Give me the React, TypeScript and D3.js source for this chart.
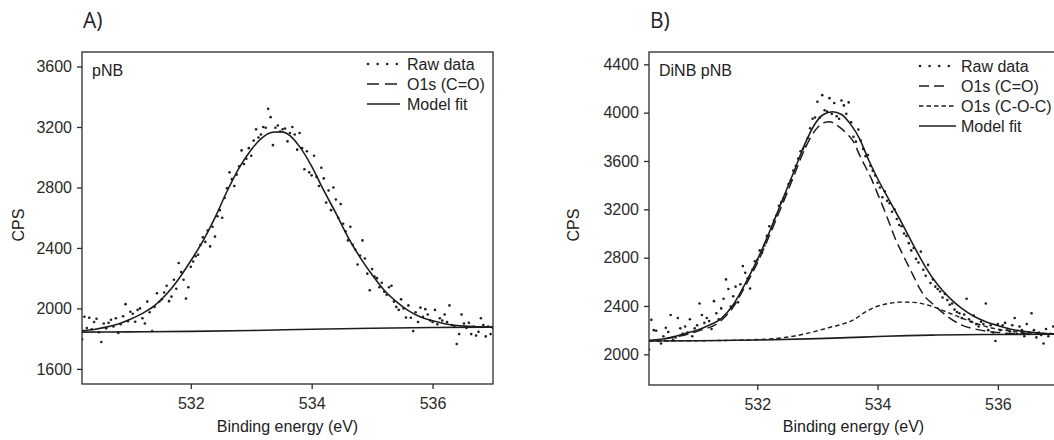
import React, { useEffect, useRef } from 'react';
import * as d3 from 'd3';

// energy grid of the raw spectra (eV)
const E_START = 530.2;
const E_STEP = 0.04;
const X_DOMAIN = [530.2, 537.0];
const X_TICKS = [532, 534, 536];

// Panel A (pNB) raw counts, one value per grid step
const rawA = [
  1795, 1945, 1870, 1938, 1862, 1910, 1932, 1842, 1778, 1900,
  1868, 1905, 1925, 1880, 1935, 1838, 1895, 1948, 2028, 1915,
  1978, 1965, 1912, 1990, 2000, 1935, 1900, 2045, 1975, 1850,
  2010, 2100, 2045, 2060, 2105, 2150, 2048, 2078, 2190, 2130,
  2300, 2240, 2190, 2065, 2140, 2275, 2310, 2345, 2355, 2420,
  2470, 2440, 2515, 2410, 2540, 2475, 2610, 2650, 2600, 2730,
  2795, 2900, 2855, 2810, 2885, 2940, 3045, 2955, 2990, 3060,
  3010, 3110, 3185, 3130, 3150, 3200, 3195, 3320, 3265, 3080,
  3195, 3210, 3170, 3185, 3190, 3105, 3160, 3200, 3150, 3050,
  3160, 3060, 2920, 3040, 2900, 2880, 3010, 2870, 2810, 2930,
  2860, 2700, 2780, 2650, 2800, 2720, 2600, 2690, 2560, 2510,
  2450, 2540, 2420, 2390, 2290, 2350, 2450, 2330, 2230, 2120,
  2260, 2210, 2200, 2140, 2170, 2110, 2090, 2140, 2150, 2045,
  2010, 1990, 2060, 2000, 1940, 2020, 1938, 1850, 1975, 1910,
  2005, 1945, 1995, 1960, 1920, 1910, 1990, 1895, 1935, 1920,
  1960, 1910, 2020, 1890, 1880, 1765, 1830, 1960, 1900, 1870,
  1905, 1830, 1880, 1820, 1845, 1935, 1890, 1815, 1880, 1830,
  1870,
];

// Panel A model fit and background [eV, CPS]
const fitA = [
  [530.2, 1853], [530.4, 1861], [530.6, 1876], [530.8, 1897], [531.0, 1928],
  [531.2, 1967], [531.4, 2018], [531.6, 2095], [531.8, 2195], [532.0, 2315],
  [532.2, 2445], [532.4, 2600], [532.6, 2775], [532.8, 2930], [533.0, 3050],
  [533.2, 3135], [533.35, 3165], [533.5, 3168], [533.65, 3140], [533.8, 3070],
  [534.0, 2940], [534.2, 2780], [534.4, 2630], [534.6, 2472], [534.8, 2338],
  [535.0, 2222], [535.2, 2120], [535.4, 2045], [535.6, 1985], [535.8, 1943],
  [536.0, 1918], [536.2, 1899], [536.4, 1887], [536.6, 1882], [536.8, 1878],
  [537.0, 1876],
];
const baseA = [
  [530.2, 1843], [531.0, 1845], [532.0, 1848], [533.0, 1854], [534.0, 1862],
  [535.0, 1869], [536.0, 1874], [537.0, 1876],
];

// Panel B (DiNB pNB) raw counts
const rawB = [
  2040, 2285, 2200, 2195, 2110, 2090, 2150, 2220, 2185, 2325,
  2120, 2140, 2300, 2215, 2170, 2230, 2180, 2290, 2150, 2215,
  2240, 2420, 2325, 2260, 2300, 2275, 2210, 2440, 2340, 2290,
  2380, 2460, 2620, 2540, 2395, 2480, 2560, 2430, 2580, 2730,
  2675, 2630, 2545, 2700, 2770, 2780, 2860, 2840, 2900, 2980,
  3060, 3040, 3110, 3150, 3230, 3260, 3290, 3330, 3410, 3440,
  3520, 3560, 3620, 3680, 3700, 3720, 3790, 3870, 3950, 3960,
  4090, 3960, 4145, 4020, 4010, 4120, 3990, 4080, 3970, 3950,
  4100, 4060, 3990, 4085, 3920, 3800, 3760, 3860, 3770, 3700,
  3640, 3650, 3560, 3520, 3480, 3420, 3380, 3300, 3350, 3270,
  3250, 3180, 3200, 3120, 3070, 3060, 3000, 2980, 2920, 2860,
  2880, 2790, 2760, 2850, 2700, 2650, 2740, 2590, 2620, 2560,
  2540, 2520, 2470, 2500, 2450, 2410, 2420, 2370, 2350, 2340,
  2300, 2330, 2460, 2290, 2270, 2320, 2250, 2230, 2270, 2250,
  2420, 2200, 2240, 2180, 2110, 2250, 2200, 2240, 2260, 2210,
  2190, 2240, 2300, 2170, 2230, 2200, 2150, 2250, 2180, 2340,
  2200, 2140, 2180, 2160, 2090, 2210, 2150, 2170, 2230, 2160,
  2200,
];

const fitB = [
  [530.2, 2115], [530.4, 2125], [530.6, 2145], [530.8, 2172], [531.0, 2200],
  [531.2, 2240], [531.4, 2295], [531.6, 2410], [531.8, 2585], [532.0, 2781],
  [532.2, 3010], [532.4, 3255], [532.6, 3500], [532.8, 3750], [532.95, 3900],
  [533.1, 3985], [533.25, 4007], [533.4, 3985], [533.55, 3905], [533.7, 3785],
  [533.85, 3610], [534.0, 3455], [534.2, 3270], [534.4, 3090], [534.6, 2900],
  [534.8, 2720], [535.0, 2575], [535.2, 2465], [535.4, 2380], [535.6, 2315],
  [535.8, 2270], [536.0, 2238], [536.2, 2210], [536.4, 2192], [536.6, 2180],
  [536.8, 2172], [537.0, 2168],
];
const coB = [
  [530.2, 2112], [530.6, 2140], [531.0, 2190], [531.4, 2280], [531.6, 2392],
  [531.8, 2565], [532.0, 2755], [532.2, 2980], [532.4, 3220], [532.6, 3465],
  [532.8, 3710], [532.95, 3845], [533.1, 3915], [533.2, 3925], [533.3, 3905],
  [533.4, 3868], [533.5, 3820], [533.6, 3760], [533.7, 3650], [533.8, 3550],
  [533.9, 3450], [534.0, 3330], [534.1, 3210], [534.2, 3080], [534.3, 2950],
  [534.4, 2845], [534.5, 2745], [534.6, 2645], [534.7, 2545], [534.8, 2470],
  [534.9, 2425], [535.0, 2380], [535.2, 2300], [535.4, 2242], [535.6, 2212],
  [535.8, 2192], [536.0, 2180], [536.4, 2170], [537.0, 2166],
];
const cocB = [
  [530.2, 2110], [531.0, 2112], [531.5, 2115], [532.0, 2122], [532.4, 2135],
  [532.8, 2170], [533.0, 2195], [533.2, 2222], [533.4, 2248], [533.6, 2285],
  [533.8, 2352], [534.0, 2398], [534.2, 2422], [534.4, 2432], [534.6, 2430],
  [534.8, 2412], [535.0, 2380], [535.2, 2340], [535.4, 2300], [535.6, 2262],
  [535.8, 2230], [536.0, 2208], [536.3, 2187], [536.6, 2176], [537.0, 2168],
];
const baseB = [
  [530.2, 2110], [531.0, 2112], [532.0, 2118], [533.0, 2130], [533.5, 2138],
  [534.0, 2147], [534.5, 2155], [535.0, 2160], [536.0, 2164], [537.0, 2166],
];

const FONT = '"Liberation Sans", Arial, sans-serif';
const INK = '#1e1e1e';

function drawPanel(svg, p) {
  const x = d3.scaleLinear().domain(X_DOMAIN).range([p.left, p.right]);
  const y = d3.scaleLinear().domain(p.yDomain).range([p.bottom, p.top]);
  const g = svg.append('g');

  const clipId = 'clip-' + p.id;
  g.append('clipPath').attr('id', clipId)
    .append('rect')
    .attr('x', p.left).attr('y', p.top)
    .attr('width', p.right - p.left).attr('height', p.bottom - p.top);

  const plot = g.append('g').attr('clip-path', `url(#${clipId})`);
  const line = d3.line().x(d => x(d[0])).y(d => y(d[1])).curve(d3.curveMonotoneX);

  p.lines.forEach(l => {
    plot.append('path')
      .attr('d', line(l.data))
      .attr('fill', 'none')
      .attr('stroke', INK)
      .attr('stroke-width', l.width || 1.6)
      .attr('stroke-dasharray', l.dash || null);
  });

  plot.selectAll('.pt')
    .data(p.raw)
    .enter()
    .append('circle')
    .attr('cx', (d, i) => x(E_START + i * E_STEP))
    .attr('cy', d => y(d))
    .attr('r', 1.3)
    .attr('fill', INK);

  // frame
  g.append('rect')
    .attr('x', p.left).attr('y', p.top)
    .attr('width', p.right - p.left).attr('height', p.bottom - p.top)
    .attr('fill', 'none').attr('stroke', '#2a2a2a').attr('stroke-width', 1.3);

  const ax = g.append('g')
    .attr('transform', `translate(0,${p.bottom})`)
    .call(d3.axisBottom(x).tickValues(X_TICKS).tickSize(5).tickPadding(9).tickFormat(d3.format('d')));
  const ay = g.append('g')
    .attr('transform', `translate(${p.left},0)`)
    .call(d3.axisLeft(y).tickValues(p.yTicks).tickSize(5).tickPadding(5).tickFormat(d3.format('d')));
  [ax, ay].forEach(a => {
    a.select('.domain').remove();
    a.selectAll('line').attr('stroke', '#2a2a2a').attr('stroke-width', 1.3);
    a.selectAll('text').attr('font-size', 16).attr('font-family', FONT).attr('fill', '#2a2a2a');
  });

  const txt = (tx, ty, s, size = 16, anchor = 'start') =>
    g.append('text').attr('x', tx).attr('y', ty).attr('font-family', FONT)
      .attr('font-size', size).attr('fill', '#222').attr('text-anchor', anchor).text(s);

  txt((p.left + p.right) / 2, 432, 'Binding energy (eV)', 16, 'middle');
  g.append('text')
    .attr('transform', `translate(${p.cpsX},${225}) rotate(-90)`)
    .attr('text-anchor', 'middle').attr('font-family', FONT).attr('font-size', 16)
    .attr('fill', '#222').text('CPS');
  txt(p.left + 1, 28, p.panel, 21).attr('font-family', '"Open Sans", sans-serif');
  txt(p.left + 10, 76, p.name);

  // legend
  p.legend.forEach((item, i) => {
    const ly = p.legendY + i * 20;
    const x0 = p.legendX;
    if (item.kind === 'dots') {
      [0, 1, 2, 3].forEach(k => {
        g.append('circle').attr('cx', x0 + 1 + k * 9.6).attr('cy', ly).attr('r', 1.3).attr('fill', INK);
      });
    } else {
      g.append('line')
        .attr('x1', x0).attr('x2', x0 + item.len)
        .attr('y1', ly).attr('y2', ly)
        .attr('stroke', INK).attr('stroke-width', 1.6)
        .attr('stroke-dasharray', item.dash || null);
    }
    txt(p.legendText, ly + 6, item.label);
  });
}

export default function App() {
  const ref = useRef(null);

  useEffect(() => {
    const svg = d3.select(ref.current);
    svg.selectAll('*').remove();

    drawPanel(svg, {
      id: 'a', panel: 'A)', name: 'pNB',
      left: 82, right: 493, top: 52, bottom: 384,
      yDomain: [1500, 3696], yTicks: [1600, 2000, 2400, 2800, 3200, 3600],
      cpsX: 24,
      raw: rawA,
      lines: [{ data: baseA }, { data: fitA }],
      legendX: 367, legendText: 407, legendY: 64,
      legend: [
        { kind: 'dots', label: 'Raw data' },
        { kind: 'line', label: 'O1s (C=O)', dash: '12,6', len: 31 },
        { kind: 'line', label: 'Model fit', len: 33 },
      ],
    });

    drawPanel(svg, {
      id: 'b', panel: 'B)', name: 'DiNB pNB',
      left: 649, right: 1058, top: 52, bottom: 385,
      yDomain: [1746, 4502], yTicks: [2000, 2400, 2800, 3200, 3600, 4000, 4400],
      cpsX: 579,
      raw: rawB,
      lines: [
        { data: baseB },
        { data: cocB, dash: '4.5,3', width: 1.4 },
        { data: coB, dash: '10,5', width: 1.5 },
        { data: fitB },
      ],
      legendX: 919, legendText: 961, legendY: 66,
      legend: [
        { kind: 'dots', label: 'Raw data' },
        { kind: 'line', label: 'O1s (C=O)', dash: '10,5', len: 25 },
        { kind: 'line', label: 'O1s (C-O-C)', dash: '4.5,3', len: 37 },
        { kind: 'line', label: 'Model fit', len: 37 },
      ],
    });
  }, []);

  return (
    <svg ref={ref} width={1054} height={440}
      style={{ position: 'absolute', left: 0, top: 0, background: '#fff' }} />
  );
}
